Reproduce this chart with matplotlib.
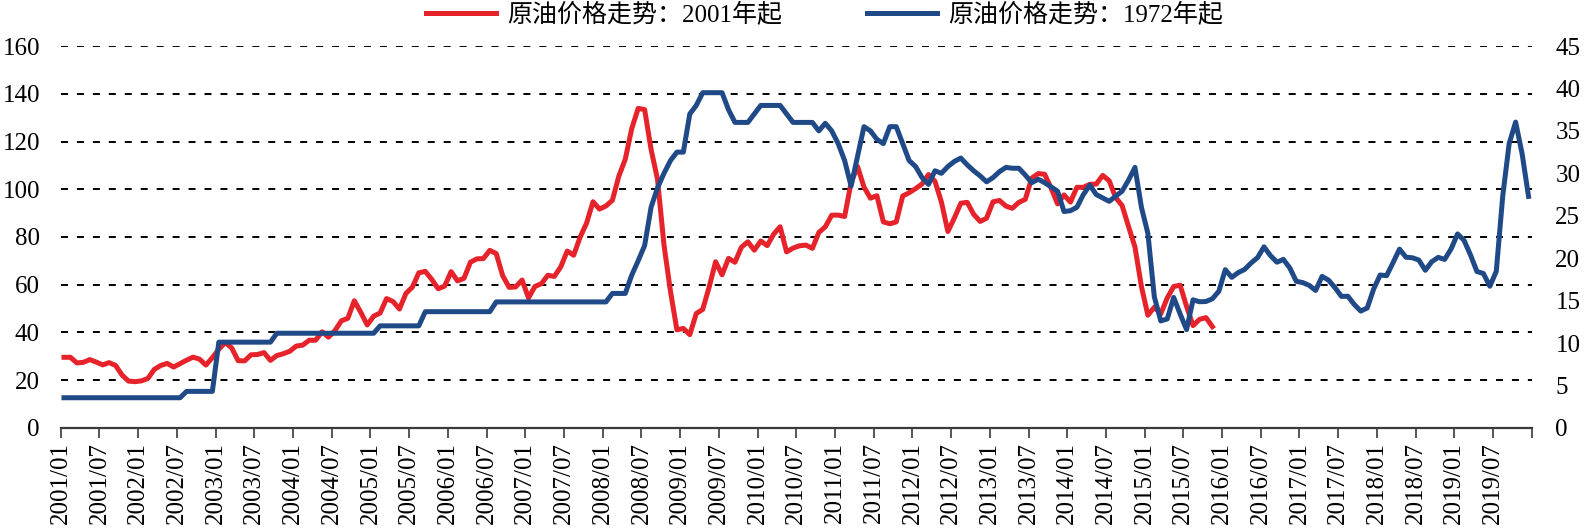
import numpy as np
import pandas as pd
import matplotlib
matplotlib.use("Agg")
import matplotlib.pyplot as plt

plt.rcParams['font.family'] = ['Liberation Serif', 'Noto Sans CJK SC']

# Red series: monthly crude price from 2001/01 (left axis)
red_values = [
    29.59, 29.61, 27.24, 27.49, 28.63, 27.60, 26.43, 27.37, 26.20, 22.17, 19.64, 19.39,
    19.72, 20.72, 24.53, 26.18, 27.04, 25.52, 26.97, 28.39, 29.66, 28.84, 26.35, 29.46,
    32.95, 35.83, 33.51, 28.17, 28.11, 30.66, 30.76, 31.57, 28.31, 30.34, 31.11, 32.13,
    34.31, 34.69, 36.74, 36.75, 40.28, 38.03, 40.78, 44.90, 45.94, 53.28, 48.47, 43.15,
    46.84, 48.15, 54.19, 52.98, 49.83, 56.35, 59.00, 64.99, 65.59, 62.26, 58.32, 59.41,
    65.49, 61.63, 62.69, 69.44, 70.84, 70.95, 74.41, 73.04, 63.80, 58.89, 59.08, 61.96,
    54.51, 59.28, 60.44, 63.98, 63.46, 67.49, 74.12, 72.36, 79.92, 85.80, 94.77, 91.69,
    92.97, 95.39, 105.45, 112.58, 125.40, 133.88, 133.37, 116.67, 104.11, 76.61, 57.31, 41.12,
    41.71, 39.09, 47.94, 49.65, 59.03, 69.64, 64.15, 71.05, 69.41, 75.72, 77.99, 74.47,
    78.33, 76.39, 81.20, 84.29, 73.74, 75.34, 76.32, 76.60, 75.24, 81.89, 84.25, 89.15,
    89.17, 88.58, 102.86, 109.53, 100.90, 96.26, 97.30, 86.33, 85.52, 86.32, 97.16, 98.56,
    100.27, 102.20, 106.16, 103.32, 94.66, 82.30, 87.90, 94.13, 94.51, 89.49, 86.53, 87.86,
    94.76, 95.31, 92.94, 92.02, 94.51, 95.77, 104.67, 106.57, 106.29, 100.54, 93.86, 97.63,
    94.62, 100.82, 100.80, 102.07, 102.18, 105.79, 103.59, 96.54, 93.21, 84.40, 75.79, 59.29,
    47.22, 50.58, 47.82, 54.45, 59.27, 59.82, 50.90, 42.87, 45.48, 46.22, 42.44,
]

# Blue series: monthly crude price from 1972/01, aligned to 2001/01 (right axis)
blue_values = [
    3.56, 3.56, 3.56, 3.56, 3.56, 3.56, 3.56, 3.56, 3.56, 3.56, 3.56, 3.56,
    3.56, 3.56, 3.56, 3.56, 3.56, 3.56, 3.56, 4.31, 4.31, 4.31, 4.31, 4.31,
    10.11, 10.11, 10.11, 10.11, 10.11, 10.11, 10.11, 10.11, 10.11, 11.16, 11.16, 11.16,
    11.16, 11.16, 11.16, 11.16, 11.16, 11.16, 11.16, 11.16, 11.16, 11.16, 11.16, 11.16,
    11.16, 12.03, 12.03, 12.03, 12.03, 12.03, 12.03, 12.03, 13.70, 13.70, 13.70, 13.70,
    13.70, 13.70, 13.70, 13.70, 13.70, 13.70, 13.70, 14.85, 14.85, 14.85, 14.85, 14.85,
    14.85, 14.85, 14.85, 14.85, 14.85, 14.85, 14.85, 14.85, 14.85, 14.85, 14.85, 14.85,
    14.85, 15.85, 15.85, 15.85, 18.00, 19.70, 21.50, 26.00, 28.30, 30.00, 31.50, 32.50,
    32.50, 37.00, 38.00, 39.50, 39.50, 39.50, 39.50, 37.50, 36.00, 36.00, 36.00, 37.00,
    38.00, 38.00, 38.00, 38.00, 37.00, 36.00, 36.00, 36.00, 36.00, 35.00, 35.90, 35.00,
    33.50, 31.50, 28.50, 32.00, 35.50, 35.00, 34.00, 33.50, 35.50, 35.50, 33.50, 31.50,
    30.80, 29.50, 28.70, 30.30, 30.00, 30.80, 31.40, 31.80, 31.00, 30.30, 29.70, 29.00,
    29.50, 30.20, 30.70, 30.60, 30.60, 29.80, 28.90, 29.30, 28.90, 28.40, 27.90, 25.50,
    25.60, 26.00, 27.50, 28.60, 27.50, 27.10, 26.70, 27.30, 27.90, 29.20, 30.70, 26.00,
    22.93, 15.45, 12.61, 12.84, 15.38, 13.43, 11.59, 15.10, 14.87, 14.90, 15.22, 16.11,
    18.65, 17.75, 18.30, 18.68, 19.44, 20.07, 21.34, 20.31, 19.53, 19.86, 18.85, 17.28,
    17.13, 16.80, 16.20, 17.86, 17.42, 16.53, 15.50, 15.52, 14.54, 13.77, 14.14, 16.38,
    18.02, 17.94, 19.48, 21.07, 20.12, 20.05, 19.78, 18.58, 19.59, 20.10, 19.86, 21.10,
    22.86, 22.11, 20.39, 18.43, 18.20, 16.70, 18.45, 27.31, 33.51, 36.04, 32.33, 27.28,
]

red_label = "原油价格走势：2001年起"
blue_label = "原油价格走势：1972年起"
n_months = 228
tick_labels = list(pd.date_range("2001-01-01", periods=38, freq="6MS").strftime("%Y/%m")) + [""]

red_color = "#E6222A"
blue_color = "#1F4A87"

fig = plt.figure(figsize=(15.86, 5.29), dpi=100)
ax = fig.add_axes([0.0383, 0.191, 0.9275, 0.722])
ax2 = ax.twinx()

# points sit in the middle of each month slot
x_red = np.arange(len(red_values)) + 0.5
x_blue = np.arange(len(blue_values)) + 0.5

l1, = ax.plot(x_red, red_values, color=red_color, lw=3.6, solid_joinstyle='round', label=red_label)
l2, = ax2.plot(x_blue, blue_values, color=blue_color, lw=3.6, solid_joinstyle='round', label=blue_label)

ax.set_xlim(0, n_months)
ax.set_ylim(0, 160)
ax2.set_ylim(0, 45)
ax.set_yticks(np.arange(0, 161, 20))
ax2.set_yticks(np.arange(0, 46, 5))

ax.set_xticks(np.arange(0, n_months + 1, 6))
ax.set_xticklabels(tick_labels, rotation=90, fontsize=18)

for a in (ax, ax2):
    for s in ("top", "left", "right"):
        a.spines[s].set_visible(False)
ax2.spines["bottom"].set_visible(False)
ax.spines["bottom"].set_color("#3a3a3a")
ax.spines["bottom"].set_linewidth(1.6)

ax.tick_params(axis="x", direction="out", length=7, width=1.2, color="#3a3a3a", pad=3)
ax.tick_params(axis="y", length=0, labelsize=18, pad=15)
ax2.tick_params(axis="y", length=0, labelsize=18, pad=17)

ax.yaxis.grid(True, color="black", lw=1.4, linestyle=(0, (3.6, 4.6)))
ax.set_axisbelow(True)
for gl in ax.yaxis.get_gridlines()[:1]:
    gl.set_visible(False)

fig.legend([l1, l2], [red_label, blue_label], loc="center", bbox_to_anchor=(0.52, 0.973),
           ncol=2, frameon=False, fontsize=18, handlelength=2.8, handletextpad=0.45,
           columnspacing=3.4, borderaxespad=0)

plt.savefig("out.png", dpi=100)
plt.close()
